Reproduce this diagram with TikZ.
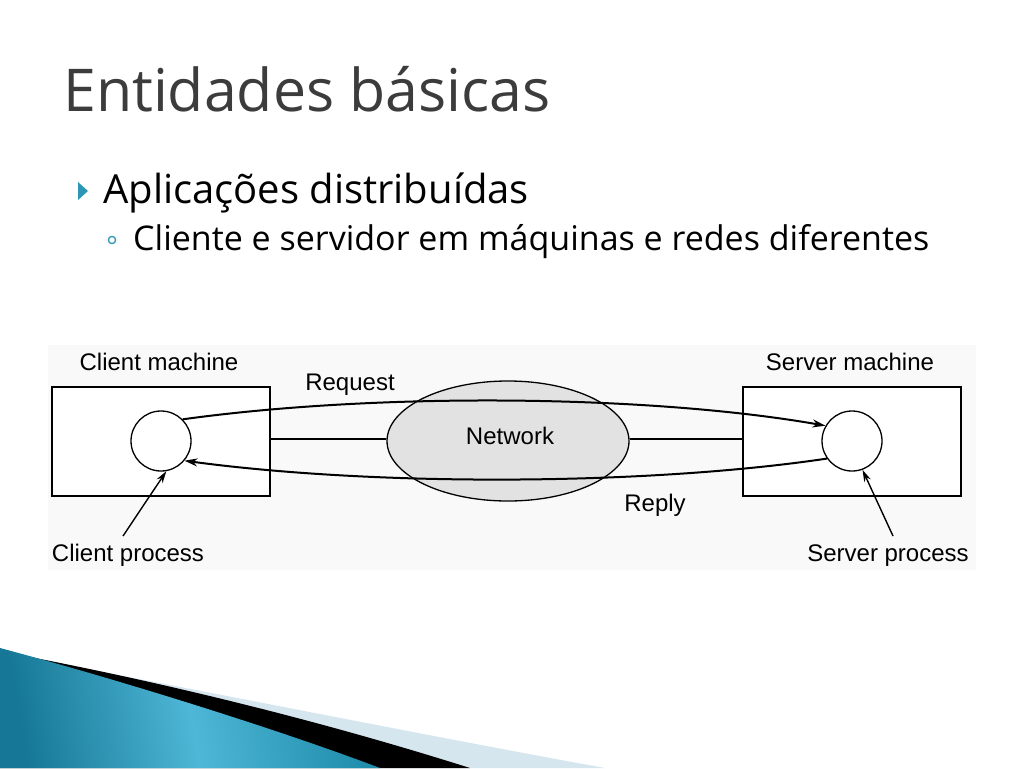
\documentclass[tikz,border=0pt]{standalone}
\usepackage{fontspec}
\setmainfont{Open Sans}
\newfontfamily\diagfont{Liberation Sans}
\usetikzlibrary{arrows.meta,shapes.geometric}
\definecolor{titlegray}{RGB}{60,60,60}
\definecolor{tealA}{RGB}{22,120,150}
\definecolor{tealB}{RGB}{78,182,214}
\definecolor{tealC}{RGB}{30,140,170}
\definecolor{paleblue}{RGB}{214,230,239}
\definecolor{bullet}{RGB}{45,150,180}
\definecolor{netgray}{RGB}{226,226,226}
\definecolor{diagbg}{RGB}{249,249,249}
\tikzset{
  machine/.style={draw=black, line width=1.3pt, fill=white},
  proc/.style={circle, draw=black, line width=1.3pt, fill=white, minimum size=60pt, inner sep=0pt},
  net/.style={ellipse, draw=black, line width=1.3pt, fill=netgray, minimum width=242pt, minimum height=120pt, inner sep=0pt},
  lbl/.style={font=\diagfont\fontsize{24}{26}\selectfont, inner sep=0pt, anchor=base},
  msg/.style={line width=2pt, -{Stealth[length=13pt,width=8pt]}},
  pointer/.style={line width=1.4pt, -{Stealth[length=12pt,width=7pt]}},
  link/.style={line width=1.2pt},
}
\begin{document}
\begin{tikzpicture}[x=1pt,y=-1pt]
\useasboundingbox (0,0) rectangle (1024,768);
\fill[white] (0,0) rectangle (1024,768);
% bottom decoration
\fill[paleblue] (40,660) .. controls (250,700) and (450,740) .. (605,768) -- (0,768) -- cycle;
\fill[black] (30,657) .. controls (200,690) and (350,730) .. (470,768) -- (0,768) -- cycle;
\shade[left color=tealA, right color=tealC, middle color=tealB, shading angle=100]
  (0,648) .. controls (120,680) and (280,730) .. (380,768) -- (0,768) -- cycle;
% title and bullets
\node[anchor=base west, inner sep=0pt, text=titlegray, font=\fontsize{59}{63}\selectfont] (title) at (63,111) {Entidades básicas};
\fill[bullet] (78,182) -- (88,191) -- (78,200) -- cycle;
\node[anchor=base west, inner sep=0pt, font=\fontsize{40}{44}\selectfont] (t1) at (103,203) {Aplicações distribuídas};
\draw[bullet, line width=1.3pt] (112,240) circle (3.6);
\node[anchor=base west, inner sep=0pt, font=\fontsize{34}{38}\selectfont] (t2) at (133,250) {Cliente e servidor em máquinas e redes diferentes};
% diagram
\fill[diagbg] (48,345) rectangle (976,570);
\draw[machine] (52,387) rectangle (270,496);
\coordinate (cmR) at (270,439);
\draw[machine] (743,387) rectangle (961,496);
\coordinate (smL) at (743,439);
\node[net] (net) at (508,441) {};
\node[lbl] at (510,444) {Network};
\node[proc] (cp) at (161,441) {};
\node[proc] (sp) at (852,441) {};
\draw[link] (cmR) -- (net.west |- cmR);
\draw[link] (net.east |- smL) -- (smL);
\draw[msg] (cp.north east) .. controls (380,392) and (650,395) .. (sp.150);
\draw[msg] (sp.215) .. controls (650,485) and (380,487) .. (cp.-40);
\node[lbl] (cml) at (159,370) {Client machine};
\node[lbl] (sml) at (850,370) {Server machine};
\node[lbl] (req) at (350,390) {Request};
\node[lbl] (rep) at (655,511) {Reply};
\node[lbl] (cpl) at (128,561) {Client process};
\node[lbl] (spl) at (888,561) {Server process};
\draw[pointer] (123,536) -- (cp.-80);
\draw[pointer] (893,536) -- (sp.-70);
\end{tikzpicture}
\end{document}
